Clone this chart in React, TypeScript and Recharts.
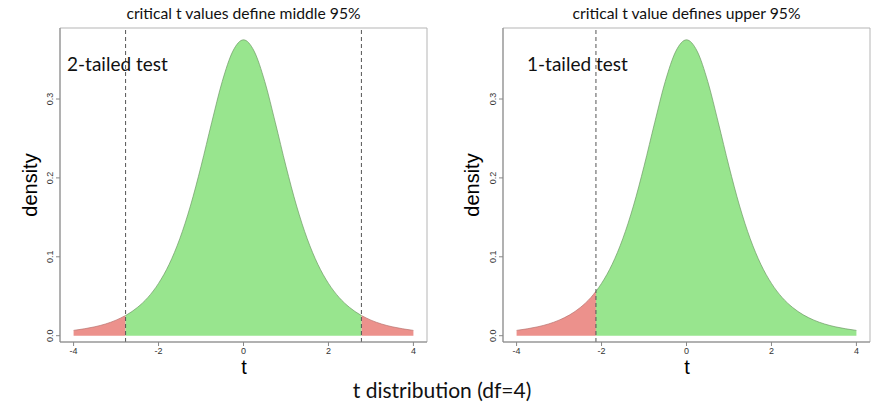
import { ComposedChart, Area, XAxis, YAxis, ReferenceLine, ReferenceArea } from 'recharts';

// t values on the grid and density (df = 4)
const tValues = [
  -4, -3.75, -3.5, -3.25, -3, -2.75, -2.5, -2.25, -2, -1.75, -1.5, -1.25, -1, -0.75, -0.5, -0.25,
  0, 0.25, 0.5, 0.75, 1, 1.25, 1.5, 1.75, 2, 2.25, 2.5, 2.75, 3, 3.25, 3.5, 3.75, 4,
];
const densityValues = [
  0.0067, 0.0087, 0.0113, 0.0148, 0.0197, 0.0264, 0.0357, 0.0485, 0.0663, 0.0905, 0.1229, 0.1644,
  0.2147, 0.2699, 0.3223, 0.3607, 0.375, 0.3607, 0.3223, 0.2699, 0.2147, 0.1644, 0.1229, 0.0905,
  0.0663, 0.0485, 0.0357, 0.0264, 0.0197, 0.0148, 0.0113, 0.0087, 0.0067,
];

// critical values and the density at them
const twoTailedCrit = [-2.776, 2.776];
const twoTailedCritDensity = [0.0256, 0.0256];
const oneTailedCrit = [-2.132];
const oneTailedCritDensity = [0.0562];

const xTicks = [-4, -2, 0, 2, 4];
const yTicks = [0, 0.1, 0.2, 0.3];

const RED = '#ec918c';
const GREEN = '#98e58e';
const axisFont = '"Liberation Sans", Arial, sans-serif';
const textFont = 'Lato, "Open Sans", sans-serif';

function buildRows(crits: number[], critDensity: number[], lo: number, hi: number) {
  const pts = tValues.map((t, i) => ({ t, d: densityValues[i] }));
  crits.forEach((c, i) => pts.push({ t: c, d: critDensity[i] }));
  pts.sort((a, b) => a.t - b.t);
  return pts.map((p) => ({
    t: p.t,
    green: p.t >= lo && p.t <= hi ? p.d : null,
    red: p.t <= lo || p.t >= hi ? p.d : null,
  }));
}

const rowsTwo = buildRows(twoTailedCrit, twoTailedCritDensity, -2.776, 2.776);
const rowsOne = buildRows(oneTailedCrit, oneTailedCritDensity, -2.132, Infinity);

function RotTick(props: any) {
  const { x, y, payload } = props;
  const cx = x - 4;
  return (
    <text
      x={cx}
      y={y}
      transform={`rotate(-90 ${cx} ${y})`}
      textAnchor="middle"
      dominantBaseline="central"
      fontSize={9}
      fontFamily={axisFont}
      fill="#333"
    >
      {Number(payload.value).toFixed(1)}
    </text>
  );
}

interface PanelProps {
  rows: any[];
  crits: number[];
  left: number;
  width: number;
  marginLeft: number;
  marginRight: number;
}

function Panel({ rows, crits, left, width, marginLeft, marginRight }: PanelProps) {
  return (
    <div style={{ position: 'absolute', left, top: 0 }}>
      <ComposedChart
        width={width}
        height={403}
        data={rows}
        margin={{ top: 28, right: marginRight, bottom: 31, left: marginLeft }}
      >
        <XAxis
          dataKey="t"
          type="number"
          domain={[-4.32, 4.32]}
          ticks={xTicks}
          interval={0}
          allowDataOverflow
          height={30}
          tickSize={4}
          stroke="#888"
          tick={{ fontSize: 9, fill: '#333', fontFamily: axisFont }}
        />
        <YAxis
          type="number"
          domain={[-0.008, 0.39]}
          ticks={yTicks}
          interval={0}
          allowDataOverflow
          width={40}
          tickSize={4}
          stroke="#888"
          tick={<RotTick />}
        />
        <ReferenceArea x1={-4.32} x2={4.32} y1={-0.008} y2={0.39} fill="none" stroke="#b5b5b5" strokeWidth={1} />
        <Area
          dataKey="red"
          type="monotone"
          baseValue={0}
          fill={RED}
          fillOpacity={1}
          stroke="#b87470"
          strokeWidth={0.7}
          connectNulls={false}
          isAnimationActive={false}
        />
        <Area
          dataKey="green"
          type="monotone"
          baseValue={0}
          fill={GREEN}
          fillOpacity={1}
          stroke="#6e9a66"
          strokeWidth={0.7}
          connectNulls={false}
          isAnimationActive={false}
        />
        {crits.map((c) => (
          <ReferenceLine key={c} x={c} stroke="#555" strokeDasharray="4 3" strokeWidth={1} />
        ))}
      </ComposedChart>
    </div>
  );
}

const abs = (style: React.CSSProperties): React.CSSProperties => ({ position: 'absolute', whiteSpace: 'nowrap', ...style });

export default function App() {
  return (
    <div style={{ position: 'absolute', left: 0, top: 0, width: 876, height: 403, background: '#fff', overflow: 'hidden' }}>
      <Panel rows={rowsTwo} crits={twoTailedCrit} left={0} width={440} marginLeft={20} marginRight={13} />
      <Panel rows={rowsOne} crits={oneTailedCrit} left={440} width={436} marginLeft={23} marginRight={6} />

      {/* titles */}
      <div style={abs({ left: 60, width: 367, top: 4, textAlign: 'center', fontFamily: textFont, fontSize: 15.7, color: '#111' })}>
        critical t values define middle 95%
      </div>
      <div style={abs({ left: 503, width: 367, top: 4, textAlign: 'center', fontFamily: textFont, fontSize: 15.7, color: '#111' })}>
        critical t value defines upper 95%
      </div>

      {/* in-plot labels */}
      <div style={abs({ left: 67, top: 52, fontFamily: textFont, fontSize: 19, color: '#111' })}>2-tailed test</div>
      <div style={abs({ left: 527, top: 52, fontFamily: textFont, fontSize: 19, color: '#111' })}>1-tailed test</div>

      {/* y labels */}
      <div style={abs({ left: 30, top: 185, transform: 'translate(-50%, -50%) rotate(-90deg)', fontFamily: axisFont, fontSize: 20, color: '#000' })}>
        density
      </div>
      <div style={abs({ left: 472, top: 185, transform: 'translate(-50%, -50%) rotate(-90deg)', fontFamily: axisFont, fontSize: 20, color: '#000' })}>
        density
      </div>

      {/* x labels */}
      <div style={abs({ left: 244, top: 367, lineHeight: '20px', transform: 'translate(-50%, -50%)', fontFamily: axisFont, fontSize: 20, color: '#000' })}>t</div>
      <div style={abs({ left: 687, top: 367, lineHeight: '20px', transform: 'translate(-50%, -50%)', fontFamily: axisFont, fontSize: 20, color: '#000' })}>t</div>

      {/* overall caption */}
      <div style={abs({ left: 442, top: 389, transform: 'translate(-50%, -50%)', fontFamily: textFont, fontSize: 21, color: '#111' })}>
        t distribution (df=4)
      </div>
    </div>
  );
}
